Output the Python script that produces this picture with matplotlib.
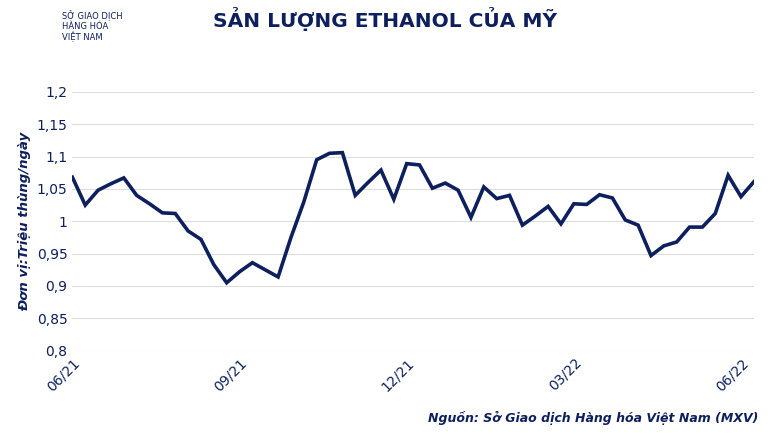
import matplotlib.pyplot as plt

NAVY = "#0d1f5c"

values = [1.068, 1.025, 1.048, 1.058, 1.067, 1.040, 1.027, 1.013, 1.012, 0.985,
          0.972, 0.933, 0.905, 0.922, 0.936, 0.925, 0.914, 0.975, 1.030, 1.095,
          1.105, 1.106, 1.040, 1.060, 1.079, 1.034, 1.089, 1.087, 1.051, 1.059,
          1.048, 1.006, 1.053, 1.035, 1.040, 0.994, 1.008, 1.023, 0.996, 1.027,
          1.026, 1.041, 1.036, 1.002, 0.994, 0.947, 0.962, 0.968, 0.991, 0.991,
          1.012, 1.071, 1.038, 1.061]
tick_pos = [0, 13, 26, 39, 52]
tick_labels = ["06/21", "09/21", "12/21", "03/22", "06/22"]
y_ticks = [0.8, 0.85, 0.9, 0.95, 1.0, 1.05, 1.1, 1.15, 1.2]
y_labels = ["0,8", "0,85", "0,9", "0,95", "1", "1,05", "1,1", "1,15", "1,2"]

fig = plt.figure(figsize=(7.7, 4.33), dpi=100)
ax = fig.add_axes([0.094, 0.19, 0.885, 0.598])
ax.plot(range(len(values)), values, color=NAVY, lw=2.6, solid_joinstyle="miter")
ax.set_ylim(0.8, 1.2)
ax.set_xlim(0, len(values) - 1)
ax.set_yticks(y_ticks, y_labels)
ax.set_xticks(tick_pos, tick_labels, rotation=45, ha="right", rotation_mode="anchor")
ax.tick_params(length=0, colors=NAVY, labelsize=10)
ax.grid(axis="y", color="#dddddd", lw=0.8)
for s in ax.spines.values():
    s.set_visible(False)
ax.set_ylabel("Đơn vị:Triệu thùng/ngày", color=NAVY, style="italic",
              fontweight="bold", fontsize=9.5)

fig.text(0.5, 0.955, "SẢN LƯỢNG ETHANOL CỦA MỸ", ha="center", va="center",
         color=NAVY, fontsize=14.5, fontweight="bold")
fig.text(0.08, 0.975, "SỞ GIAO DỊCH\nHÀNG HÓA\nVIỆT NAM", ha="left", va="top",
         color=NAVY, fontsize=6, linespacing=1.1)
fig.text(0.985, 0.035, "Nguồn: Sở Giao dịch Hàng hóa Việt Nam (MXV)", ha="right",
         va="center", color=NAVY, fontsize=9, style="italic", fontweight="bold")
fig.savefig("out.png", dpi=100)
